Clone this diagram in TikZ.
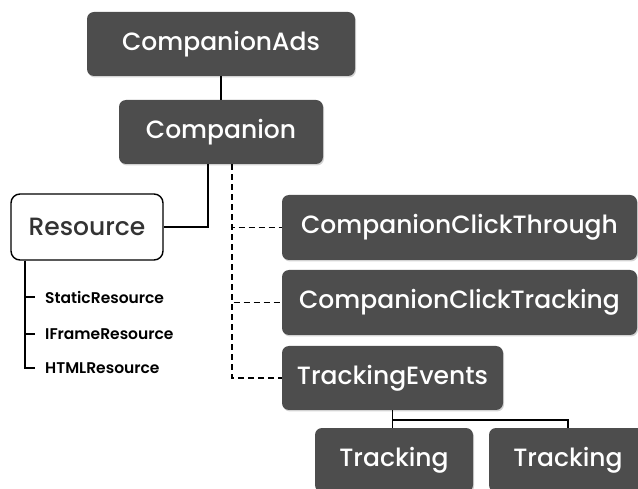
\documentclass[tikz,border=0pt]{standalone}
\usepackage{fontspec}
\setmainfont{Poppins}[UprightFont=* Medium, BoldFont=* SemiBold]
\usetikzlibrary{shadows}
\definecolor{boxgray}{HTML}{4D4D4D}
\definecolor{txtgray}{HTML}{333333}
\tikzset{
  darkbox/.style={rectangle, rounded corners=7pt, fill=boxgray, text=white,
    inner sep=0pt, font=\fontsize{25}{30}\selectfont,
    drop shadow={shadow xshift=1pt, shadow yshift=-1.5pt, opacity=0.35}},
  lightbox/.style={rectangle, rounded corners=9pt, draw=black, line width=1.4pt, fill=white,
    text=txtgray, inner sep=0pt, font=\fontsize{25}{30}\selectfont},
  leaf/.style={anchor=west, inner xsep=10pt, inner ysep=0pt, text=black, font=\fontsize{15.5}{18}\selectfont\bfseries},
  link/.style={line width=1.5pt, black},
  dlink/.style={line width=1.5pt, black, dash pattern=on 6pt off 4pt},
}
\begin{document}
\begin{tikzpicture}[x=1pt,y=-1pt]
\useasboundingbox (0,0) rectangle (638,489);
\clip (0,0) rectangle (638,489);
\node[darkbox, minimum width=268pt, minimum height=64pt] (ads) at (221,44) {CompanionAds};
\node[darkbox, minimum width=204pt, minimum height=64pt] (comp) at (221,132) {Companion};
\node[lightbox, minimum width=152pt, minimum height=66pt] (res) at (87,227) {Resource};
\node[darkbox, minimum width=355pt, minimum height=65pt] (cct) at (459.5,227.5) {CompanionClickThrough};
\node[darkbox, minimum width=355pt, minimum height=65pt] (cctr) at (459.5,302.5) {CompanionClickTracking};
\node[darkbox, minimum width=221pt, minimum height=64pt] (te) at (392.5,378) {TrackingEvents};
\node[darkbox, minimum width=158pt, minimum height=64pt] (tr1) at (394,460) {Tracking};
\node[darkbox, minimum width=158pt, minimum height=64pt] (tr2) at (568,460) {Tracking};
\node[leaf] (sr) at (35,297) {StaticResource};
\node[leaf] (ifr) at (35,334) {IFrameResource};
\node[leaf] (hr) at (35,368) {HTMLResource};
\draw[link] (ads) -- (comp);
\draw[link] ([xshift=-13pt]comp.south) |- (res.east);
\draw[dlink] ([xshift=11pt]comp.south) |- (cct.west);
\draw[dlink] ([xshift=11pt]comp.south) |- (cctr.west);
\draw[dlink] ([xshift=11pt]comp.south) |- (te.west);
\draw[link] ([xshift=-62pt]res.south) |- (sr.west);
\draw[link] ([xshift=-62pt]res.south) |- (ifr.west);
\draw[link] ([xshift=-62pt]res.south) |- (hr.west);
\draw[link] (te.south) -- (te.south |- tr1.north);
\draw[link] (te.south) ++(0,10) -| (tr2.north);
\end{tikzpicture}
\end{document}
